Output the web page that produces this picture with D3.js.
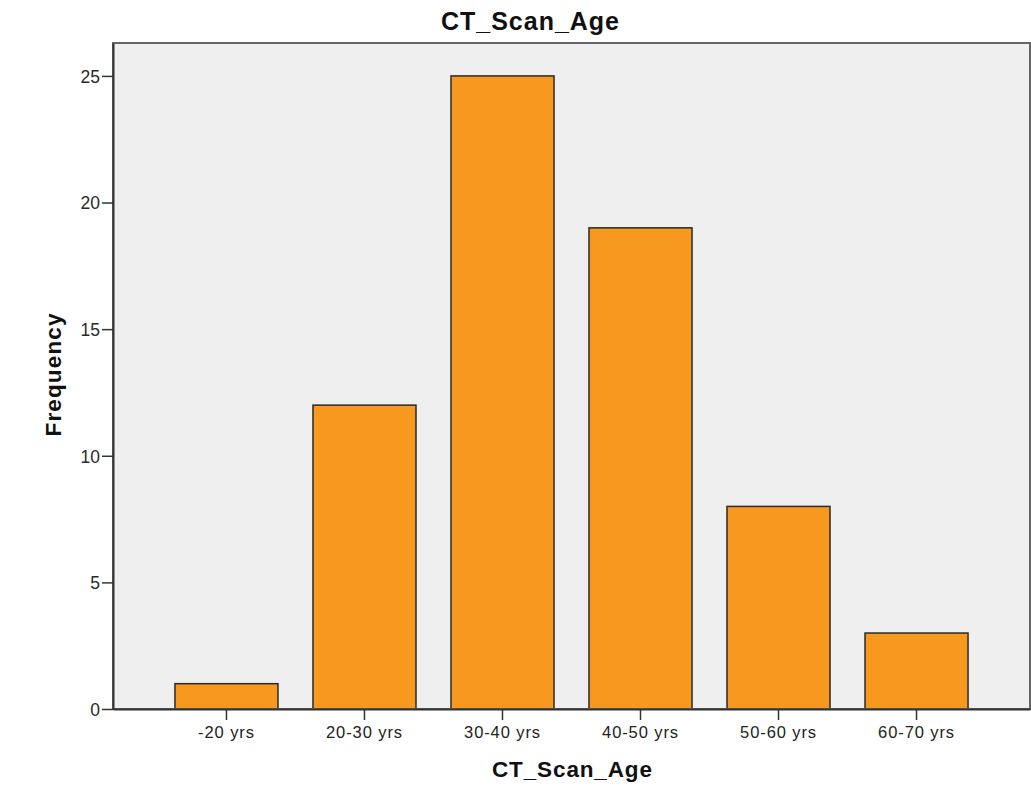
<!DOCTYPE html>
<html><head><meta charset="utf-8">
<script src="https://cdn.jsdelivr.net/npm/d3@7"></script>
<style>body{margin:0;background:#fff}svg{display:block}text{font-family:"Liberation Sans",Arial,sans-serif}</style>
</head><body><svg id="c" width="1031" height="806"></svg>
<script>
const categories = ["-20 yrs","20-30 yrs","30-40 yrs","40-50 yrs","50-60 yrs","60-70 yrs"];
const frequencies = [1,12,25,19,8,3];
const yTicks = [0,5,10,15,20,25];

const svg = d3.select("#c");
const L=113, R=1030, T=43, B=709;
const x = d3.scaleBand().domain(categories).range([L,R]).paddingInner(0.2536).paddingOuter(0.449);
const y = d3.scaleLinear().domain([0,26.3]).range([B,T]);

svg.append("rect").attr("x",L).attr("y",T).attr("width",R-L).attr("height",B-T).attr("fill","#efefef");

svg.selectAll("rect.bar").data(frequencies).join("rect").attr("class","bar")
  .attr("x",(d,i)=>x(categories[i])).attr("width",x.bandwidth())
  .attr("y",d=>y(d)).attr("height",d=>B-y(d))
  .attr("fill","#f7991f").attr("stroke","#2a2a2a").attr("stroke-width",1.5);

svg.append("rect").attr("x",L).attr("y",T).attr("width",R-L).attr("height",B-T)
  .attr("fill","none").attr("stroke","#666").attr("stroke-width",2);

const ya = svg.append("g").attr("transform",`translate(${L},0)`)
  .call(d3.axisLeft(y).tickValues(yTicks).tickSize(11).tickPadding(2).tickSizeOuter(0).tickFormat(d3.format("d")));
ya.select(".domain").attr("stroke","#333").attr("stroke-width",2);
ya.selectAll(".tick line").attr("stroke","#333").attr("stroke-width",1.5);
ya.selectAll("text").style("font-size","17.5px").style("font-family","Liberation Sans, Arial, sans-serif").attr("fill","#2a2a2a").attr("dy","0.36em");

const xa = svg.append("g").attr("transform",`translate(0,${B})`)
  .call(d3.axisBottom(x).tickSize(11).tickPadding(6).tickSizeOuter(0));
xa.select(".domain").attr("stroke","#333").attr("stroke-width",2);
xa.selectAll(".tick line").attr("stroke","#333").attr("stroke-width",1.5);
xa.selectAll("text").style("font-size","16.5px").style("font-family","Liberation Sans, Arial, sans-serif")
  .style("letter-spacing","0.9px").attr("fill","#222");

svg.append("text").attr("x",530).attr("y",30).attr("text-anchor","middle")
  .attr("textLength",178).attr("lengthAdjust","spacing")
  .style("font-size","25px").attr("font-weight","bold").attr("fill","#111").text("CT_Scan_Age");
svg.append("text").attr("x",572).attr("y",777).attr("text-anchor","middle")
  .attr("textLength",160).attr("lengthAdjust","spacing")
  .style("font-size","22.5px").attr("font-weight","bold").attr("fill","#111").text("CT_Scan_Age");
svg.append("text").attr("transform","translate(61,375) rotate(-90)").attr("text-anchor","middle")
  .attr("textLength",123).attr("lengthAdjust","spacing")
  .style("font-size","22.5px").attr("font-weight","bold").attr("fill","#111").text("Frequency");
</script></body></html>
